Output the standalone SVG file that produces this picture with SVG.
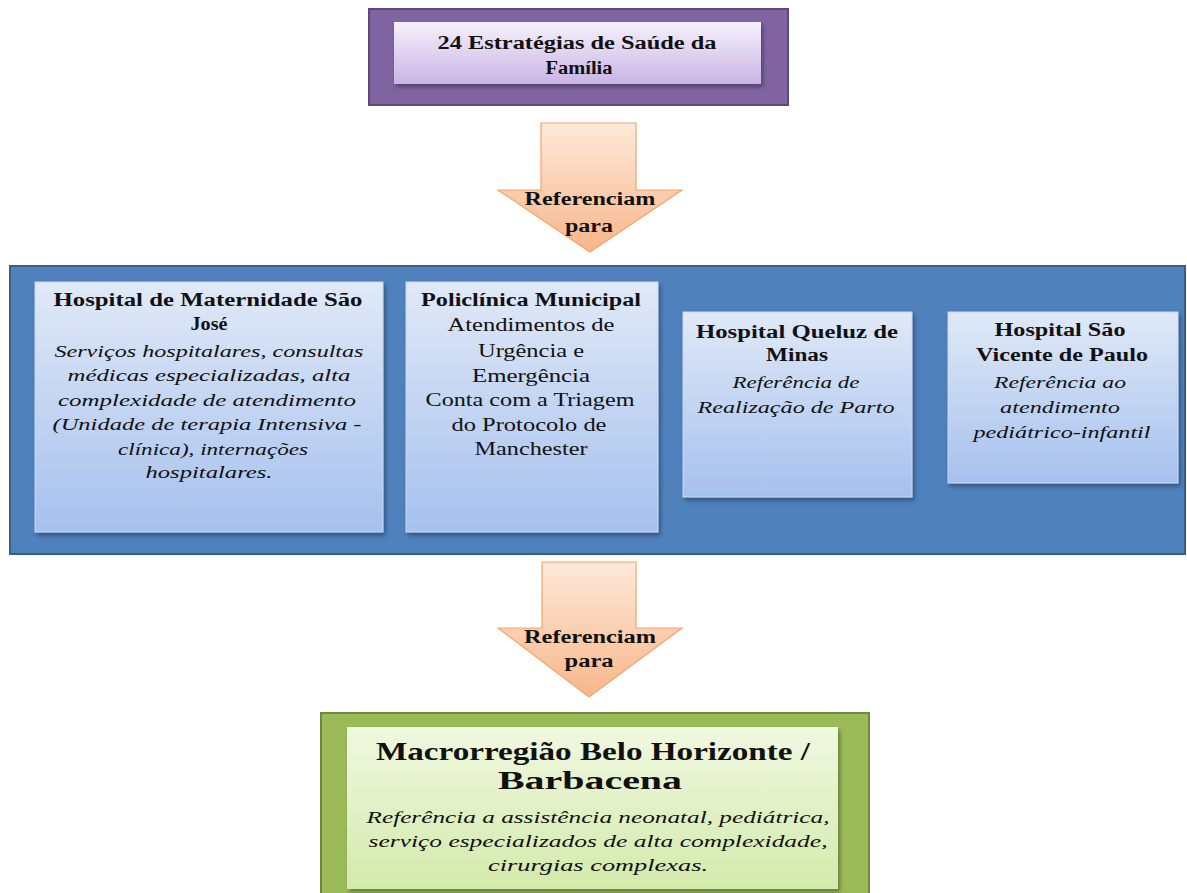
<svg xmlns="http://www.w3.org/2000/svg" width="1187" height="893" viewBox="0 0 1187 893">
<defs>
<linearGradient id="gPurple" x1="0" y1="0" x2="0" y2="1"><stop offset="0" stop-color="#f6f1fc"/><stop offset="1" stop-color="#c9b4e4"/></linearGradient>
<linearGradient id="gBlue" x1="0" y1="0" x2="0" y2="1"><stop offset="0" stop-color="#e0e9f7"/><stop offset="1" stop-color="#a6c1ee"/></linearGradient>
<linearGradient id="gOrange" x1="0" y1="0" x2="0" y2="1"><stop offset="0" stop-color="#fde9d9"/><stop offset="1" stop-color="#f8b68a"/></linearGradient>
<linearGradient id="gGreen" x1="0" y1="0" x2="0" y2="1"><stop offset="0" stop-color="#f0f8e0"/><stop offset="1" stop-color="#d3eaac"/></linearGradient>
<filter id="sh" x="-10%" y="-10%" width="130%" height="130%"><feDropShadow dx="2" dy="3" stdDeviation="2" flood-color="#000" flood-opacity="0.35"/></filter>
</defs>
<style>
text{font-family:"Liberation Serif","Times New Roman",serif;fill:#111;text-anchor:middle}
.t{font-weight:bold;font-size:18px}
.d{font-style:italic;font-size:17px}
.r{font-size:18px}
.big{font-weight:bold;font-size:26px}
.arr{fill:url(#gOrange);stroke:#f4a46c;stroke-width:1.2}
.inBlue{fill:url(#gBlue);stroke:#c9d8ee;stroke-width:1;filter:url(#sh)}
</style>
<rect width="1187" height="893" fill="#ffffff"/>

<g id="top-node">
<rect x="369" y="9" width="419" height="96" fill="#8064a2" stroke="#5e4a7a" stroke-width="2"/>
<rect x="394" y="22" width="367" height="62" fill="url(#gPurple)" filter="url(#sh)"/>
<text class="t" x="577" y="49" textLength="279" lengthAdjust="spacingAndGlyphs">24 Estratégias de Saúde da</text>
<text class="t" x="579" y="74" textLength="67" lengthAdjust="spacingAndGlyphs">Família</text>
</g>

<g id="connectors">
<g id="arrow1">
<polygon class="arr" points="541,123 636,123 636,190 682,190 590,252 498,190 541,190"/>
<text class="t" x="590" y="205" textLength="131" lengthAdjust="spacingAndGlyphs">Referenciam</text>
<text class="t" x="589" y="232" textLength="48" lengthAdjust="spacingAndGlyphs">para</text>
</g>
<g id="arrow2">
<polygon class="arr" points="542,562 636,562 636,628 682,628 589,697 498,628 542,628"/>
<text class="t" x="590" y="643" textLength="132" lengthAdjust="spacingAndGlyphs">Referenciam</text>
<text class="t" x="589" y="667" textLength="49" lengthAdjust="spacingAndGlyphs">para</text>
</g>
</g>

<g id="middle-group">
<rect x="10" y="266" width="1175" height="288" fill="#4f81bd" stroke="#385d8a" stroke-width="2"/>
</g>

<g id="hospital-maternidade">
<rect class="inBlue" x="35" y="282" width="348" height="250"/>
<text class="t" x="208" y="306" textLength="309" lengthAdjust="spacingAndGlyphs">Hospital de Maternidade São</text>
<text class="t" x="209" y="330" textLength="37" lengthAdjust="spacingAndGlyphs">José</text>
<text class="d" x="209" y="357" textLength="309" lengthAdjust="spacingAndGlyphs">Serviços hospitalares,  consultas</text>
<text class="d" x="209" y="381" textLength="283" lengthAdjust="spacingAndGlyphs">médicas especializadas,  alta</text>
<text class="d" x="207" y="406" textLength="298" lengthAdjust="spacingAndGlyphs">complexidade de atendimento</text>
<text class="d" x="207" y="430" textLength="309" lengthAdjust="spacingAndGlyphs">(Unidade de terapia Intensiva -</text>
<text class="d" x="213" y="455" textLength="190" lengthAdjust="spacingAndGlyphs">clínica), internações</text>
<text class="d" x="209" y="478" textLength="127" lengthAdjust="spacingAndGlyphs">hospitalares.</text>
</g>

<g id="policlinica">
<rect class="inBlue" x="406" y="282" width="252" height="250"/>
<text class="t" x="531" y="306" textLength="220" lengthAdjust="spacingAndGlyphs">Policlínica Municipal</text>
<text class="r" x="531" y="331" textLength="167" lengthAdjust="spacingAndGlyphs">Atendimentos de</text>
<text class="r" x="531" y="357" textLength="106" lengthAdjust="spacingAndGlyphs">Urgência e</text>
<text class="r" x="531" y="382" textLength="118" lengthAdjust="spacingAndGlyphs">Emergência</text>
<text class="r" x="530" y="406" textLength="209" lengthAdjust="spacingAndGlyphs">Conta com a Triagem</text>
<text class="r" x="529" y="431" textLength="155" lengthAdjust="spacingAndGlyphs">do Protocolo de</text>
<text class="r" x="531" y="455" textLength="113" lengthAdjust="spacingAndGlyphs">Manchester</text>
</g>

<g id="hospital-queluz">
<rect class="inBlue" x="683" y="312" width="229" height="185"/>
<text class="t" x="797" y="338" textLength="202" lengthAdjust="spacingAndGlyphs">Hospital Queluz de</text>
<text class="t" x="797" y="361" textLength="62" lengthAdjust="spacingAndGlyphs">Minas</text>
<text class="d" x="796" y="388" textLength="127" lengthAdjust="spacingAndGlyphs">Referência de</text>
<text class="d" x="796" y="413" textLength="197" lengthAdjust="spacingAndGlyphs">Realização de Parto</text>
</g>

<g id="hospital-sao-vicente">
<rect class="inBlue" x="948" y="312" width="230" height="171"/>
<text class="t" x="1060" y="336" textLength="131" lengthAdjust="spacingAndGlyphs">Hospital São</text>
<text class="t" x="1062" y="361" textLength="172" lengthAdjust="spacingAndGlyphs">Vicente de Paulo</text>
<text class="d" x="1060" y="388" textLength="132" lengthAdjust="spacingAndGlyphs">Referência ao</text>
<text class="d" x="1060" y="413" textLength="120" lengthAdjust="spacingAndGlyphs">atendimento</text>
<text class="d" x="1062" y="438" textLength="177" lengthAdjust="spacingAndGlyphs">pediátrico-infantil</text>
</g>

<g id="macrorregiao">
<rect x="321" y="713" width="548" height="190" fill="#9bbb59" stroke="#71893f" stroke-width="2"/>
<rect x="347" y="727" width="491" height="162" fill="url(#gGreen)" filter="url(#sh)"/>
<text class="big" x="593" y="760" textLength="434" lengthAdjust="spacingAndGlyphs">Macrorregião Belo Horizonte /</text>
<text class="big" x="590" y="789" textLength="184" lengthAdjust="spacingAndGlyphs">Barbacena</text>
<text class="d" x="598" y="823" textLength="463" lengthAdjust="spacingAndGlyphs">Referência a assistência  neonatal, pediátrica,</text>
<text class="d" x="598" y="847" textLength="459" lengthAdjust="spacingAndGlyphs">serviço especializados  de alta complexidade,</text>
<text class="d" x="598" y="871" textLength="220" lengthAdjust="spacingAndGlyphs">cirurgias complexas.</text>
</g>
</svg>
